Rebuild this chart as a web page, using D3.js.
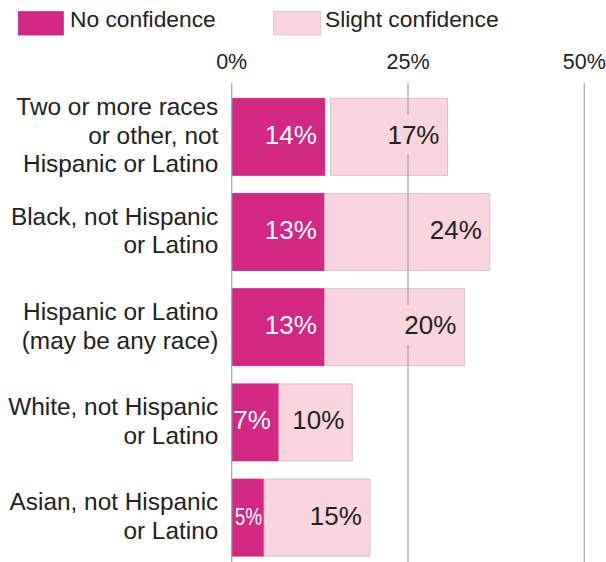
<!DOCTYPE html>
<html>
<head>
<meta charset="utf-8">
<script src="https://cdn.jsdelivr.net/npm/d3@7"></script>
<style>
  body { margin: 0; background: #fff; }
  text { font-family: "Liberation Sans", Arial, sans-serif; }
</style>
</head>
<body>
<script>
// categories, one array of text lines per bar
const categories = [
    ["Two or more races", "or other, not", "Hispanic or Latino"],
    ["Black, not Hispanic", "or Latino"],
    ["Hispanic or Latino", "(may be any race)"],
    ["White, not Hispanic", "or Latino"],
    ["Asian, not Hispanic", "or Latino"]
];
const noConfidence     = [13.2, 13.2, 13.2, 6.7, 4.6];
const slightConfidence = [16.6, 23.4, 19.8, 10.4, 15.0];
const slightGap        = [0.8, 0, 0, 0, 0];   // white gap before the light bar (pct)
const noLabels     = ["14%", "13%", "13%", "7%", "5%"];
const slightLabels = ["17%", "24%", "20%", "10%", "15%"];
const xTicks = [0, 25, 50];
const seriesNames = ["No confidence", "Slight confidence"];

const width = 606, height = 562;
const darkFill = "#d22783", darkStroke = "#c4247a";
const lightFill = "#fad5dd", lightStroke = "#d8c3c9";
const gridColor = "#a8a8a8", textColor = "#222";

const svg = d3.select("body").append("svg")
    .attr("width", width)
    .attr("height", height);

const x = d3.scaleLinear().domain([0, 50]).range([231.7, 584.3]);
const y = d3.scaleBand()
    .domain(d3.range(categories.length))
    .range([89.2, 565.2])
    .paddingInner(0.191)
    .paddingOuter(0.0955);

const rows = categories.map(function(c, i) {
    return {
        lines: c,
        no: noConfidence[i],
        slight: slightConfidence[i],
        gap: slightGap[i],
        noLabel: noLabels[i],
        slightLabel: slightLabels[i],
        i: i
    };
});

// legend
const legend = svg.append("g");
const legendX = [18.3, 273.3];
[darkFill, lightFill].forEach(function(col, k) {
    legend.append("rect")
        .attr("x", legendX[k]).attr("y", 11.7)
        .attr("width", k === 0 ? 45 : 47.4).attr("height", 23.3)
        .attr("fill", col)
        .attr("stroke", k === 0 ? darkStroke : lightStroke)
        .attr("stroke-width", 0.8);
    legend.append("text")
        .attr("x", legendX[k] + 51.7)
        .attr("y", 27)
        .attr("font-size", 22.8)
        .attr("fill", textColor)
        .text(seriesNames[k]);
});

// bars
const bars = svg.append("g");
bars.selectAll(".no").data(rows).enter().append("rect")
    .attr("class", "no")
    .attr("x", x(0))
    .attr("y", d => y(d.i))
    .attr("width", d => x(d.no) - x(0))
    .attr("height", y.bandwidth())
    .attr("fill", darkFill)
    .attr("stroke", darkStroke)
    .attr("stroke-width", 0.8);

bars.selectAll(".slight").data(rows).enter().append("rect")
    .attr("class", "slight")
    .attr("x", d => x(d.no + d.gap))
    .attr("y", d => y(d.i))
    .attr("width", d => x(d.no + d.gap + d.slight) - x(d.no + d.gap))
    .attr("height", y.bandwidth())
    .attr("fill", lightFill)
    .attr("stroke", lightStroke)
    .attr("stroke-width", 1);

// gridlines and tick labels
const grid = svg.append("g");
grid.selectAll("line").data(xTicks).enter().append("line")
    .attr("x1", d => x(d)).attr("x2", d => x(d))
    .attr("y1", 83.3).attr("y2", height)
    .attr("stroke", gridColor)
    .attr("stroke-width", 1.3);

grid.selectAll("text").data(xTicks).enter().append("text")
    .attr("x", d => x(d))
    .attr("y", 69.3)
    .attr("text-anchor", "middle")
    .attr("font-size", 21.5)
    .attr("fill", textColor)
    .text(d => d + "%");

// category labels
const lineH = 28.5;
const cats = svg.append("g");
rows.forEach(function(d) {
    const cy = y(d.i) + y.bandwidth() / 2;
    const first = cy - (d.lines.length - 1) * lineH / 2 + 8.6 - 1.5;
    const t = cats.append("text")
        .attr("text-anchor", "end")
        .attr("font-size", 24.4)
        .attr("fill", textColor);
    d.lines.forEach(function(l, k) {
        t.append("tspan")
            .attr("x", 218.3)
            .attr("y", first + k * lineH)
            .text(l);
    });
});

// value labels
const vals = svg.append("g");
rows.forEach(function(d) {
    const cy = y(d.i) + y.bandwidth() / 2;

    // no confidence, white text inside dark segment
    const x0 = x(0), x1 = x(d.no);
    const tn = vals.append("text")
        .attr("text-anchor", "end")
        .attr("font-size", 26)
        .attr("fill", "#fff")
        .attr("y", cy + 7)
        .text(d.noLabel);
    const segW = x1 - x0;
    if (tn.node().getComputedTextLength() > segW - 9) {
        tn.attr("font-size", 24)
          .attr("x", x1 - 2)
          .attr("textLength", segW - 5)
          .attr("lengthAdjust", "spacingAndGlyphs");
    } else {
        tn.attr("x", x1 - 8);
    }

    // slight confidence, dark text on a light patch that hides the gridline
    const sx1 = x(d.no + d.gap + d.slight);
    const ts = vals.append("text")
        .attr("text-anchor", "end")
        .attr("font-size", 26)
        .attr("fill", textColor)
        .attr("x", sx1 - 8)
        .attr("y", cy + 7)
        .text(d.slightLabel);
    const w = ts.node().getComputedTextLength();
    vals.insert("rect", function() { return ts.node(); })
        .attr("x", sx1 - 8 - w - 5)
        .attr("y", cy - 22)
        .attr("width", w + 10)
        .attr("height", 40)
        .attr("fill", lightFill);
});
</script>
</body>
</html>
